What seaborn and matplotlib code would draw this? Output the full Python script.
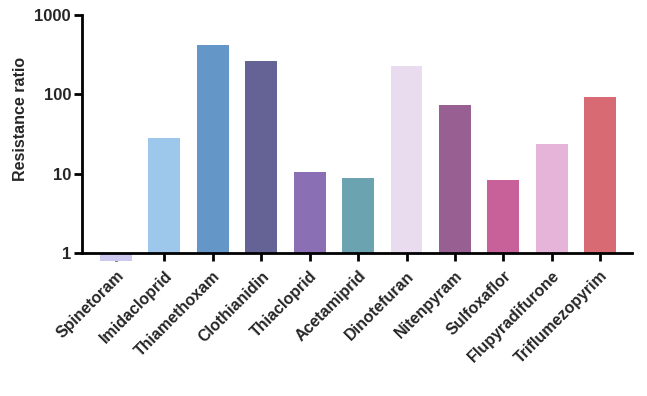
import seaborn as sns
import matplotlib.pyplot as plt
import pandas as pd

# Insecticides and resistance ratios
insecticides = ["Spinetoram", "Imidacloprid", "Thiamethoxam", "Clothianidin",
                "Thiacloprid", "Acetamiprid", "Dinotefuran", "Nitenpyram",
                "Sulfoxaflor", "Flupyradifurone", "Triflumezopyrim"]
ratios = [0.8, 28, 420, 265, 10.5, 8.8, 229, 73, 8.3, 24, 93]
colors = ["#cdc8f0", "#9dc8ec", "#6497c8", "#656295", "#8a6fb5", "#6ba4b0",
          "#e8dcee", "#985f93", "#c8609a", "#e6b4d8", "#d86a74"]
yticks = [1, 10, 100, 1000]

df = pd.DataFrame({"Insecticide": insecticides, "RR": ratios})

sns.set_theme(style="ticks")
plt.rcParams['font.family'] = ['Liberation Sans', 'DejaVu Sans']
plt.rcParams['font.weight'] = 'bold'

fig = plt.figure(figsize=(6.47, 3.96), dpi=100)
ax = fig.add_axes([0.127, 0.361, 0.85, 0.601])

sns.barplot(data=df, x="Insecticide", y="RR", hue="Insecticide",
            palette=colors, legend=False, width=0.66, saturation=1,
            linewidth=0, ax=ax)
ax.set_yscale("log")

# bars grow from 1 (GraphPad style), allowed to hang below the axis
for p, v in zip(ax.patches, ratios):
    p.set_y(1)
    p.set_height(v - 1)
    p.set_clip_on(False)

ax.set_ylim(1, 1000)
ax.set_xlim(-0.7, 10.66)
ax.set_yticks(yticks)
ax.set_yticklabels([str(t) for t in yticks], fontsize=12, fontweight='bold')
ax.minorticks_off()
ax.set_xticks(range(len(insecticides)))
ax.set_xticklabels(insecticides, rotation=45, ha='right', rotation_mode='anchor',
                   fontsize=11.5, fontweight='bold')

for axis in ['bottom', 'left']:
    ax.spines[axis].set_linewidth(2)
    ax.spines[axis].set_color('black')
ax.spines['top'].set_visible(False)
ax.spines['right'].set_visible(False)
ax.tick_params(axis='both', width=2, length=6, color='black', pad=2)
ax.tick_params(axis='x', pad=5)

ax.set(xlabel=None)
ax.set_ylabel('Resistance ratio', fontsize=11.5, fontweight='bold')
ax.yaxis.set_label_coords(-0.098, 0.563)

plt.savefig('out.png', dpi=100)
